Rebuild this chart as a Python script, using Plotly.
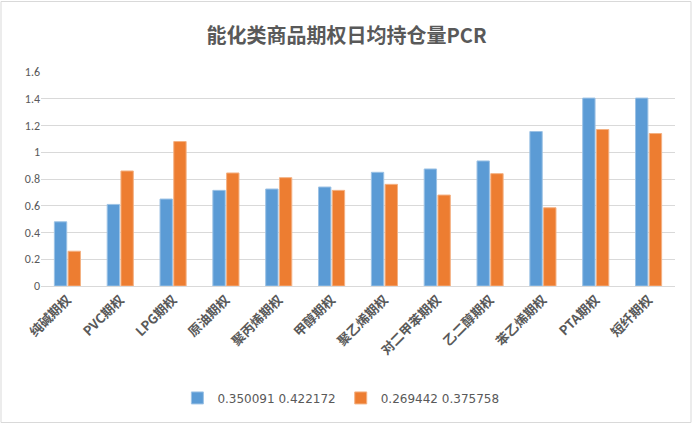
import plotly.graph_objects as go

categories = ["纯碱期权", "PVC期权", "LPG期权", "原油期权", "聚丙烯期权", "甲醇期权",
              "聚乙烯期权", "对二甲苯期权", "乙二醇期权", "苯乙烯期权", "PTA期权", "短纤期权"]
series1_name = "0.350091 0.422172"
series2_name = "0.269442 0.375758"
series1 = [0.48, 0.61, 0.65, 0.715, 0.725, 0.74, 0.85, 0.875, 0.935, 1.155, 1.405, 1.405]
series2 = [0.26, 0.86, 1.08, 0.845, 0.81, 0.715, 0.76, 0.68, 0.84, 0.585, 1.17, 1.14]
y_ticks = [0, 0.2, 0.4, 0.6, 0.8, 1.0, 1.2, 1.4, 1.6]
y_tick_labels = ["0", "0.2", "0.4", "0.6", "0.8", "1", "1.2", "1.4", "1.6"]

L, R, T, B = 41, 18, 72, 138
W, H = 693, 424
pw, ph = W - L - R, H - T - B

fig = go.Figure()
fig.add_trace(go.Bar(x=categories, y=series1, name=series1_name, marker_color="#5B9BD5",
                     marker_line=dict(color="#9CC2E5", width=1)))
fig.add_trace(go.Bar(x=categories, y=series2, name=series2_name, marker_color="#ED7D31",
                     marker_line=dict(color="#F4B183", width=1)))

fig.update_layout(
    width=W, height=H,
    margin=dict(l=L, r=R, t=T, b=B, autoexpand=False),
    paper_bgcolor="white", plot_bgcolor="white",
    title=dict(text="<b>能化类商品期权日均持仓量PCR</b>", x=0.5, xanchor="center",
               y=0.915, yanchor="middle",
               font=dict(family="Noto Sans CJK SC", size=20, color="#595959")),
    barmode="group", bargap=0.48, bargroupgap=0.1,
    legend=dict(orientation="h", x=0.473, xanchor="center", y=-0.523, yanchor="middle",
                font=dict(family="Verdana, DejaVu Sans", size=12, color="#595959"),
                itemwidth=30, traceorder="normal"),
    xaxis=dict(tickangle=-45, showgrid=False, showline=True, linecolor="#D9D9D9",
               automargin=False, tickvals=categories,
               ticktext=["<b>" + c + "</b>" for c in categories],
               tickfont=dict(family="Noto Sans CJK SC", size=13, color="#595959"),
               ticks=""),
    yaxis=dict(range=[0, 1.6], tickvals=y_ticks, ticktext=y_tick_labels, automargin=False,
               showgrid=True, gridcolor="#D9D9D9", zeroline=False, ticks="",
               tickfont=dict(family="Calibri, Carlito, DejaVu Sans", size=12, color="#595959")),
    shapes=[dict(type="rect", xref="paper", yref="paper",
                 x0=(1 - L) / pw, x1=1 + (691 - (W - R)) / pw,
                 y0=-(B - 1.5) / ph, y1=1 + (T - 1.5) / ph,
                 line=dict(color="#D9D9D9", width=1))],
)

fig.write_html("out.html")
